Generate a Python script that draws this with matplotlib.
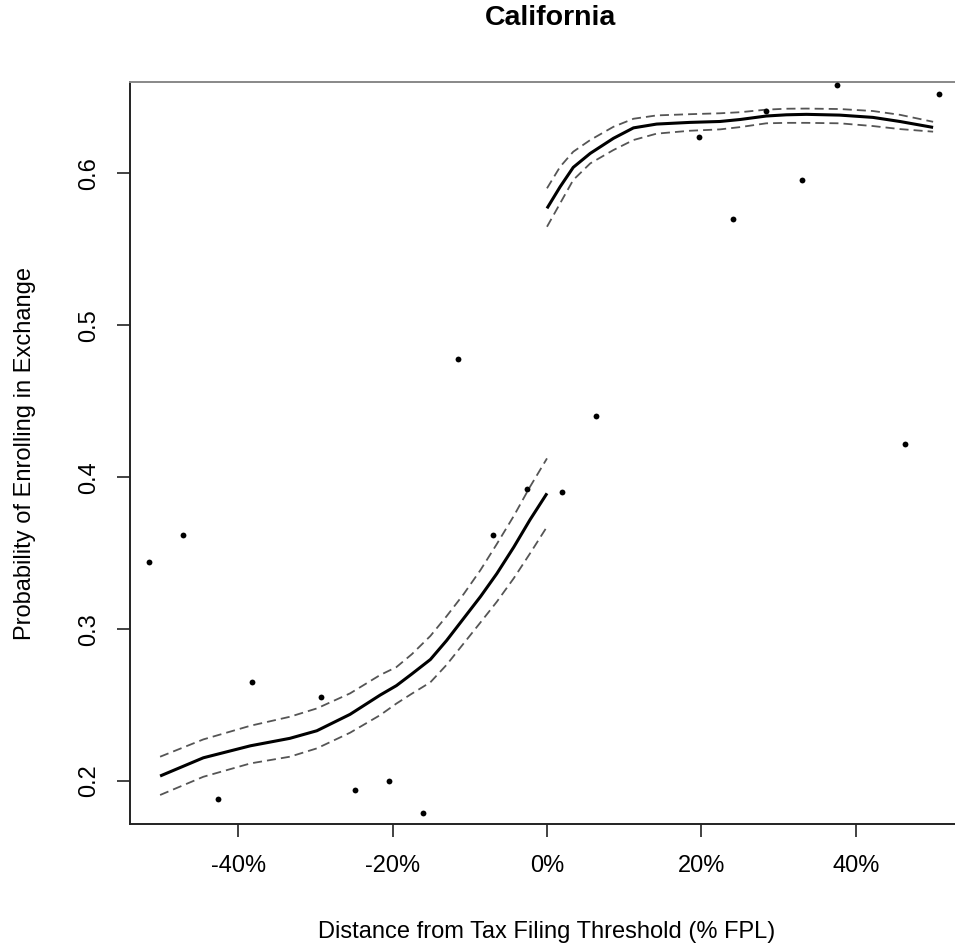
"""
plot.py
California: probability of enrolling in the exchange around the tax filing
threshold, binned means with a smoothed fit and its confidence band on each
side of the cutoff. Base-R look.
"""

import matplotlib
matplotlib.use("Agg")
import matplotlib.pyplot as plt

plt.rcParams["font.family"] = ["Liberation Sans", "DejaVu Sans"]

# Binned means (distance from threshold in % FPL, share enrolled)
bin_x = [-51.5, -47.1, -42.6, -38.2, -29.3, -24.9, -20.4, -16.0, -11.5, -7.0,
         -2.6, 1.9, 6.3, 19.7, 24.1, 28.4, 33.0, 37.5, 46.3, 50.8]
bin_y = [0.344, 0.362, 0.188, 0.265, 0.255, 0.194, 0.200, 0.179, 0.478, 0.362,
         0.392, 0.390, 0.440, 0.624, 0.570, 0.641, 0.596, 0.658, 0.422, 0.652]

# Fit below the threshold
below_x   = [-50.1, -44.5, -38.4, -33.3, -29.8, -25.5, -21.6, -19.5, -17.5, -15.1, -13.0,
             -10.8, -8.6, -6.5, -4.3, -2.2, 0.0]
below_fit = [0.2033, 0.2153, 0.2232, 0.2281, 0.2331, 0.2439, 0.2566, 0.2628, 0.2705, 0.2800, 0.2925,
             0.3070, 0.3215, 0.3365, 0.3540, 0.3720, 0.3894]
below_hi  = [0.2160, 0.2274, 0.2364, 0.2423, 0.2478, 0.2577, 0.2698, 0.2750, 0.2835, 0.2955, 0.3085,
             0.3230, 0.3390, 0.3560, 0.3745, 0.3937, 0.4124]
below_lo  = [0.1908, 0.2028, 0.2116, 0.2160, 0.2215, 0.2318, 0.2434, 0.2510, 0.2575, 0.2650, 0.2765,
             0.2905, 0.3045, 0.3180, 0.3335, 0.3498, 0.3674]

# Fit above the threshold
above_x   = [0.0, 1.7, 3.4, 5.6, 8.6, 11.2, 14.2, 18.5, 22.4, 25.0, 28.4, 31.0, 33.6, 37.9,
             42.2, 45.7, 50.0]
above_fit = [0.5770, 0.5912, 0.6040, 0.6132, 0.6231, 0.6300, 0.6325, 0.6336, 0.6342, 0.6355,
             0.6378, 0.6386, 0.6389, 0.6384, 0.6369, 0.6342, 0.6303]
above_hi  = [0.5902, 0.6044, 0.6143, 0.6220, 0.6307, 0.6360, 0.6382, 0.6390, 0.6396, 0.6403,
             0.6420, 0.6426, 0.6427, 0.6424, 0.6411, 0.6386, 0.6340]
above_lo  = [0.5649, 0.5803, 0.5957, 0.6066, 0.6154, 0.6220, 0.6262, 0.6281, 0.6290, 0.6305,
             0.6330, 0.6333, 0.6333, 0.6330, 0.6312, 0.6292, 0.6275]

x_ticks = [-40, -20, 0, 20, 40]
x_tick_labels = ["-40%", "-20%", "0%", "20%", "40%"]
y_ticks = [0.2, 0.3, 0.4, 0.5, 0.6]
y_tick_labels = ["0.2", "0.3", "0.4", "0.5", "0.6"]

FS = 17

fig = plt.figure(figsize=(9.55, 9.49), dpi=100)
# the plot box runs past the right edge, as in the cropped original
ax = fig.add_axes([0.1361, 0.1317, 0.8806, 0.7819])

ax.plot(bin_x, bin_y, "o", color="black", ms=4.2, mew=0, zorder=3)

for xs, fit, hi, lo in [(below_x, below_fit, below_hi, below_lo),
                        (above_x, above_fit, above_hi, above_lo)]:
    ax.plot(xs, fit, color="black", lw=2.2, solid_capstyle="butt", solid_joinstyle="round")
    ax.plot(xs, hi, color="#555555", lw=1.3, dashes=(5.0, 2.8))
    ax.plot(xs, lo, color="#555555", lw=1.3, dashes=(5.0, 2.8))

ax.set_xlim(-54.0, 54.9)
ax.set_ylim(0.1717, 0.6602)

ax.set_xticks(x_ticks)
ax.set_xticklabels(x_tick_labels, fontsize=FS)
ax.set_yticks(y_ticks)
ax.set_yticklabels(y_tick_labels, fontsize=FS, rotation=90, va="center")
ax.tick_params(axis="both", direction="out", length=9.5, width=1.2, color="#222222")
ax.tick_params(axis="x", pad=13)
ax.tick_params(axis="y", pad=12)

for side, sp in ax.spines.items():
    sp.set_linewidth(1.4)
    sp.set_color("#888888" if side == "top" else "#222222")

fig.text(550 / 955, 1 - 18 / 949, "California", fontsize=20.5, fontweight="bold",
         ha="center", va="center")
fig.text(547 / 955, 1 - 932 / 949, "Distance from Tax Filing Threshold (% FPL)",
         fontsize=FS, ha="center", va="center")
fig.text(25 / 955, 1 - 453 / 949, "Probability of Enrolling in Exchange",
         fontsize=FS, rotation=90, ha="center", va="center")

fig.savefig("out.png", dpi=100)
plt.close(fig)
